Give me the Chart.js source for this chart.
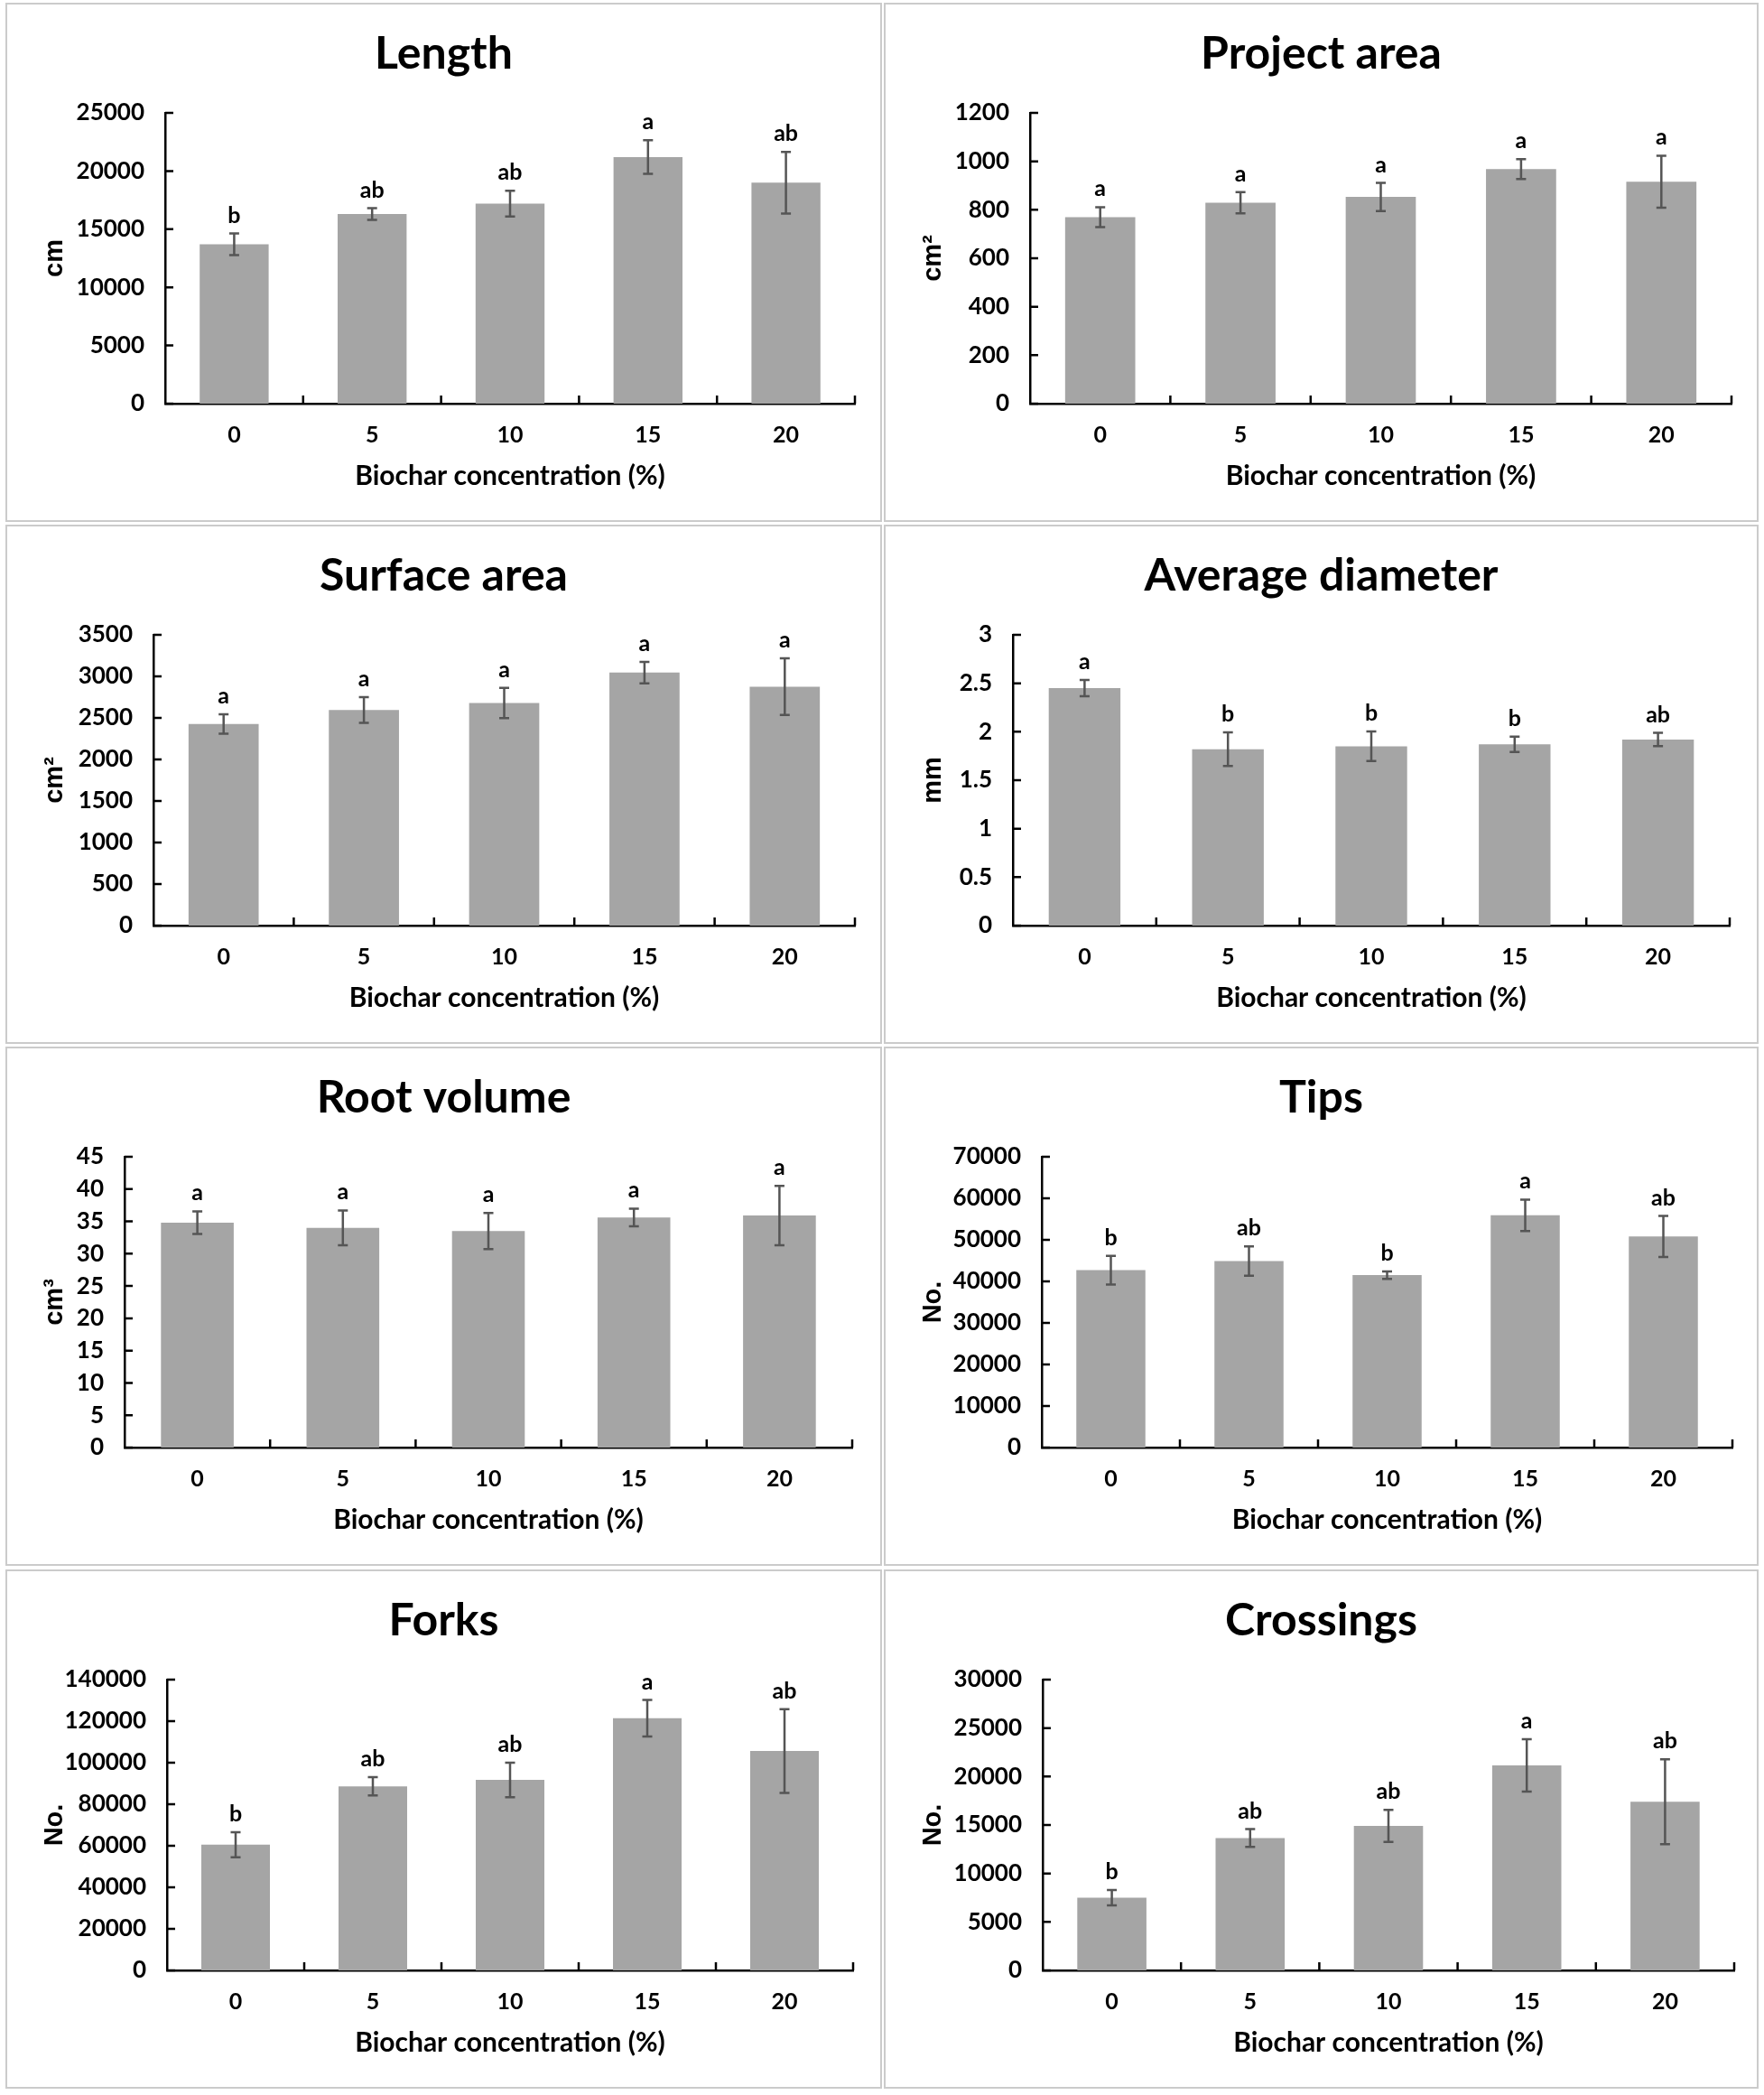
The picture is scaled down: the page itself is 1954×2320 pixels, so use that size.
<!DOCTYPE html>
<html>
<head>
<meta charset="utf-8">
<script src="https://cdn.jsdelivr.net/npm/chart.js@4.4.1/dist/chart.umd.min.js"></script>
<style>
  body { margin: 0; width: 1954px; height: 2320px; background: #fff; position: relative; }
  .panel { position: absolute; box-sizing: border-box; border: 2px solid #cbcbcb; height: 575px; background: #fff; }
  .panel canvas { display: block; }
</style>
</head>
<body>
<script>
// categories
const concentration = ['0', '5', '10', '15', '20'];

// root traits: mean, error (half bar) and significance letters
const lengthMean = [13700, 16300, 17200, 21200, 19000];
const lengthErr = [930, 500, 1100, 1450, 2650];
const lengthSig = ['b', 'ab', 'ab', 'a', 'ab'];

const projAreaMean = [770, 829, 853, 968, 916];
const projAreaErr = [41, 44, 58, 41, 107];
const projAreaSig = ['a', 'a', 'a', 'a', 'a'];

const surfAreaMean = [2426, 2595, 2679, 3045, 2876];
const surfAreaErr = [117, 155, 183, 130, 342];
const surfAreaSig = ['a', 'a', 'a', 'a', 'a'];

const diameterMean = [2.45, 1.82, 1.85, 1.87, 1.92];
const diameterErr = [0.083, 0.174, 0.152, 0.079, 0.068];
const diameterSig = ['a', 'b', 'b', 'b', 'ab'];

const volumeMean = [34.8, 34.0, 33.5, 35.6, 35.9];
const volumeErr = [1.75, 2.7, 2.8, 1.37, 4.6];
const volumeSig = ['a', 'a', 'a', 'a', 'a'];

const tipsMean = [42700, 44900, 41500, 55900, 50800];
const tipsErr = [3450, 3550, 900, 3800, 4950];
const tipsSig = ['b', 'ab', 'b', 'a', 'ab'];

const forksMean = [60500, 88600, 91700, 121400, 105600];
const forksErr = [6000, 4400, 8300, 8800, 20200];
const forksSig = ['b', 'ab', 'ab', 'a', 'ab'];

const crossingsMean = [7500, 13650, 14900, 21150, 17400];
const crossingsErr = [790, 920, 1650, 2700, 4370];
const crossingsSig = ['b', 'ab', 'ab', 'a', 'ab'];

// axes
const panelTitles = ['Length', 'Project area', 'Surface area', 'Average diameter', 'Root volume', 'Tips', 'Forks', 'Crossings'];
const yUnits = ['cm', 'cm²', 'cm²', 'mm', 'cm³', 'No.', 'No.', 'No.'];
const yMax = [25000, 1200, 3500, 3, 45, 70000, 140000, 30000];
const yStep = [5000, 200, 500, 0.5, 5, 10000, 20000, 5000];
const xTitle = 'Biochar concentration (%)';

const means = [lengthMean, projAreaMean, surfAreaMean, diameterMean, volumeMean, tipsMean, forksMean, crossingsMean];
const errs = [lengthErr, projAreaErr, surfAreaErr, diameterErr, volumeErr, tipsErr, forksErr, crossingsErr];
const sigs = [lengthSig, projAreaSig, surfAreaSig, diameterSig, volumeSig, tipsSig, forksSig, crossingsSig];

// panel placement on the page
const colX = [6, 979];
const colW = [971, 969];
const rowY = [3, 581, 1159, 1738];
const plotLeft = [175, 160, 162, 141, 130, 173, 177, 174];
const plotRight = [939, 937, 939, 935, 936, 938, 937, 940];

const FONT = 'Lato, "Liberation Sans", sans-serif';

const errorBars = {
  id: 'errorBars',
  afterDatasetsDraw(chart, args, opts) {
    const ctx = chart.ctx;
    const y = chart.scales.y;
    const meta = chart.getDatasetMeta(0);
    ctx.save();
    meta.data.forEach((bar, i) => {
      const m = opts.means[i], e = opts.errors[i];
      const top = y.getPixelForValue(m + e);
      const bot = y.getPixelForValue(m - e);
      ctx.strokeStyle = '#555555';
      ctx.lineWidth = 2.5;
      ctx.beginPath();
      ctx.moveTo(bar.x, top); ctx.lineTo(bar.x, bot);
      ctx.moveTo(bar.x - 5.5, top); ctx.lineTo(bar.x + 5.5, top);
      ctx.moveTo(bar.x - 5.5, bot); ctx.lineTo(bar.x + 5.5, bot);
      ctx.stroke();
      ctx.fillStyle = '#000';
      ctx.font = 'bold 25px ' + FONT;
      ctx.textAlign = 'center';
      ctx.textBaseline = 'alphabetic';
      ctx.fillText(opts.letters[i], bar.x, top - 12);
    });
    ctx.restore();
  }
};

// Excel style tick marks pointing into the plot
const innerTicks = {
  id: 'innerTicks',
  afterDraw(chart) {
    const {ctx, chartArea: a, scales: {x, y}} = chart;
    ctx.save();
    ctx.strokeStyle = '#000';
    ctx.lineWidth = 2.5;
    ctx.beginPath();
    y.ticks.forEach((t, i) => {
      const py = y.getPixelForTick(i);
      ctx.moveTo(a.left, py); ctx.lineTo(a.left + 9, py);
    });
    const n = x.ticks.length;
    for (let i = 1; i <= n; i++) {
      const px = i < n ? (x.getPixelForTick(i - 1) + x.getPixelForTick(i)) / 2 : a.right;
      ctx.moveTo(px, a.bottom); ctx.lineTo(px, a.bottom - 9);
    }
    ctx.stroke();
    ctx.restore();
  }
};

panelTitles.forEach((title, k) => {
  const col = k % 2, row = Math.floor(k / 2);
  const div = document.createElement('div');
  div.className = 'panel';
  div.style.left = colX[col] + 'px';
  div.style.top = rowY[row] + 'px';
  div.style.width = colW[col] + 'px';
  const canvas = document.createElement('canvas');
  const cw = colW[col] - 4, ch = 571;
  canvas.width = cw; canvas.height = ch;
  div.appendChild(canvas);
  document.body.appendChild(div);

  new Chart(canvas.getContext('2d'), {
    type: 'bar',
    data: {
      labels: concentration,
      datasets: [{
        data: means[k],
        backgroundColor: '#a5a5a5',
        borderWidth: 0,
        barPercentage: 0.5,
        categoryPercentage: 1
      }]
    },
    plugins: [errorBars, innerTicks],
    options: {
      responsive: false,
      animation: false,
      devicePixelRatio: 1,
      layout: { padding: 0 },
      plugins: {
        legend: { display: false },
        tooltip: { enabled: false },
        title: {
          display: true,
          text: title,
          color: '#000',
          font: { family: FONT, size: 50, weight: 'bold' },
          padding: { top: 25, bottom: 35 }
        },
        errorBars: { means: means[k], errors: errs[k], letters: sigs[k] }
      },
      scales: {
        x: {
          grid: { display: false, drawTicks: false },
          border: { display: true, color: '#000', width: 2.5 },
          ticks: { color: '#000', font: { family: FONT, size: 25, weight: 'bold' }, padding: 20, maxRotation: 0 },
          title: {
            display: true,
            text: xTitle,
            color: '#000',
            font: { family: FONT, size: 30, weight: 'bold' },
            padding: { top: 0, bottom: 31 }
          },
          afterFit: s => { s.height = ch - 442; }
        },
        y: {
          min: 0,
          max: yMax[k],
          grid: { display: false, drawTicks: false },
          border: { display: true, color: '#000', width: 2.5 },
          ticks: {
            stepSize: yStep[k],
            color: '#000',
            font: { family: FONT, size: 26, weight: 'bold' },
            padding: 23,
            callback: v => String(v)
          },
          title: {
            display: true,
            text: yUnits[k],
            color: '#000',
            font: { family: '"Liberation Sans", Arial, sans-serif', size: 29, weight: 'bold' },
            padding: { top: 36, bottom: 0 }
          },
          afterFit: s => { s.width = plotLeft[k]; }
        },
        // blank right margin so the title stays centred on the panel
        yRight: {
          position: 'right',
          display: true,
          grid: { display: false, drawTicks: false },
          border: { display: false },
          ticks: { display: false },
          afterFit: s => { s.width = cw - plotRight[k]; }
        }
      }
    }
  });
});
</script>
</body>
</html>
